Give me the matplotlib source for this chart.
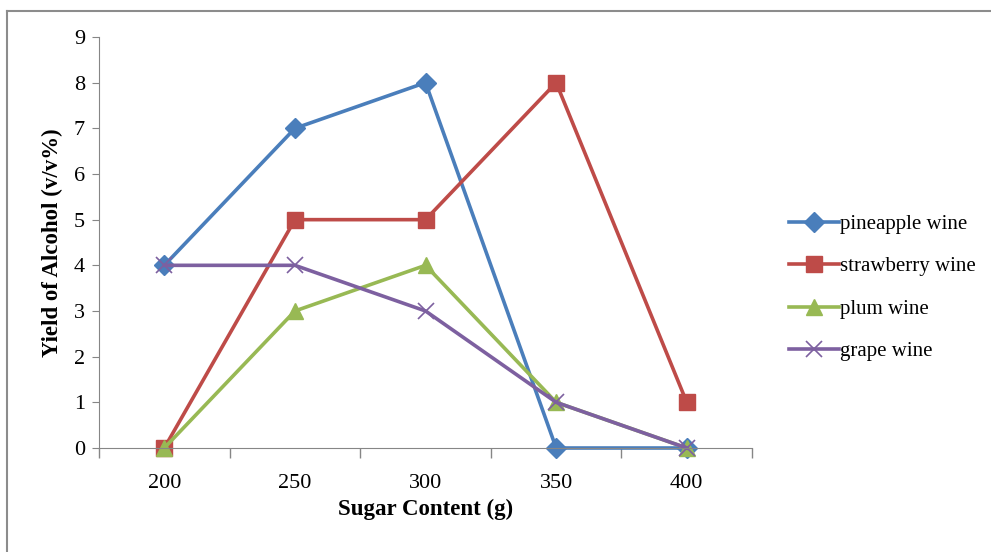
import matplotlib
matplotlib.use("Agg")
import matplotlib.pyplot as plt
from matplotlib.lines import Line2D
import numpy as np

sugar = ["200", "250", "300", "350", "400"]
pineapple = [4, 7, 8, 0, 0]
strawberry = [0, 5, 5, 8, 1]
plum = [0, 3, 4, 1, 0]
grape = [4, 4, 3, 1, 0]

series = [
    ("pineapple wine", pineapple, "#4A7EBB", "D", 10),
    ("strawberry wine", strawberry, "#BE4B48", "s", 11.5),
    ("plum wine", plum, "#98B954", "^", 12),
    ("grape wine", grape, "#7D60A0", "x", 12),
]

plt.rcParams["font.family"] = ["Liberation Serif", "DejaVu Serif"]

fig = plt.figure(figsize=(9.91, 5.52), dpi=100)
ax = fig.add_axes([0.0999, 0.1884, 0.659, 0.7446])

x = np.arange(len(sugar))
for label, vals, color, marker, ms in series:
    mew = 1.2 if marker == "x" else 1
    ax.plot(x, vals, color=color, lw=2.6, marker=marker, markersize=ms,
            markeredgewidth=mew, label=label, clip_on=False)

ax.set_xlim(-0.5, len(sugar) - 0.5)
ax.set_ylim(0, 9)
ax.set_yticks(range(0, 10))
ax.set_xticks(x)
ax.set_xticklabels(sugar)
ax.set_xticks(np.arange(-0.5, len(sugar), 1.0), minor=True)
ax.tick_params(axis="x", which="major", length=0, pad=19, labelsize=16)
ax.tick_params(axis="x", which="minor", length=7, color="#868686", width=1)
ax.tick_params(axis="y", length=5, color="#868686", labelsize=16, pad=5)

for side in ["top", "right"]:
    ax.spines[side].set_visible(False)
for side in ["left", "bottom"]:
    ax.spines[side].set_color("#868686")

ax.set_xlabel("Sugar Content (g)", fontsize=16.5, fontweight="bold", labelpad=4)
ax.set_ylabel("Yield of Alcohol (v/v%)", fontsize=16.5, fontweight="bold", labelpad=8)

ax.legend(loc="upper left", bbox_to_anchor=(0.788, 0.627), bbox_transform=fig.transFigure,
          frameon=False, fontsize=15, labelspacing=1.1, handlelength=2.4,
          handletextpad=0.05, borderaxespad=0)

# outer chart border (top and left are visible in the reference)
fig.add_artist(Line2D([0.007, 1.0], [0.980, 0.980], transform=fig.transFigure, color="#8c8c8c", lw=1.5))
fig.add_artist(Line2D([0.007, 0.007], [0.0, 0.980], transform=fig.transFigure, color="#8c8c8c", lw=1.5))

fig.savefig("out.png", dpi=100)
